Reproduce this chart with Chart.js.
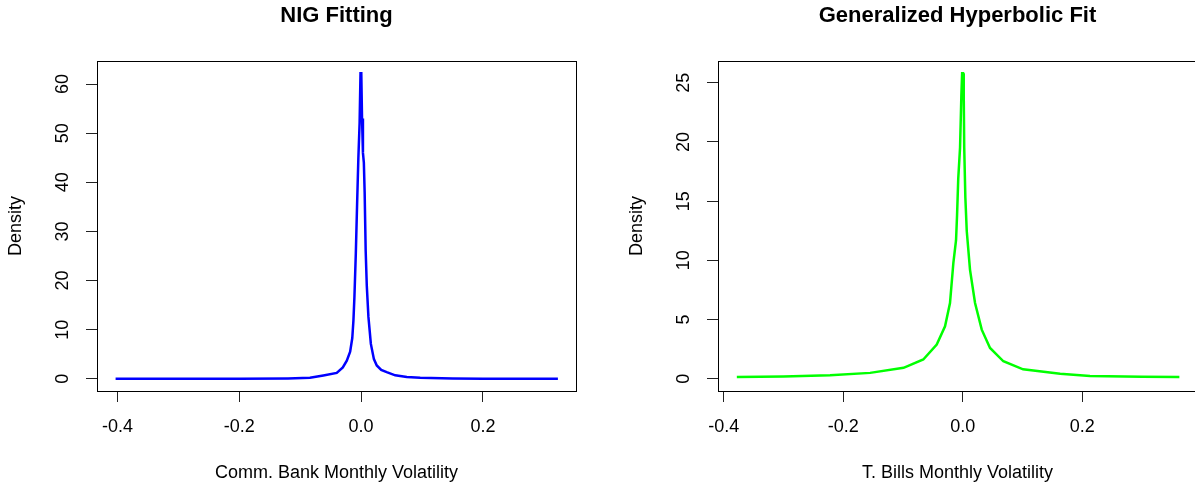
<!DOCTYPE html>
<html>
<head>
<meta charset="utf-8">
<script src="https://cdn.jsdelivr.net/npm/chart.js@4"></script>
<style>
  body { margin: 0; background: #fff; overflow: hidden; width: 1195px; height: 486px; position: relative; }
  .panel { position: absolute; top: 0; height: 486px; }
  #left { left: 0; width: 597px; }
  #right { left: 600px; width: 620px; }
</style>
</head>
<body>
<div class="panel" id="left"><canvas id="nigChart" width="597" height="486"></canvas></div>
<div class="panel" id="right"><canvas id="ghChart" width="620" height="486"></canvas></div>
<script>
// tick positions
const xTicks = [-0.4, -0.2, 0.0, 0.2];
const nigYTicks = [0, 10, 20, 30, 40, 50, 60];
const ghYTicks = [0, 5, 10, 15, 20, 25];

// NIG fitted density
const nigX = [-0.403, -0.3, -0.2, -0.12, -0.084, -0.062, -0.04, -0.03, -0.0235, -0.018, -0.0145,
  -0.0126, -0.011, -0.0087, -0.0065, -0.0045, -0.0025, -0.001, 0.0003, 0.0015, 0.003, 0.0045,
  0.0058, 0.0075, 0.0093, 0.012, 0.016, 0.021, 0.0257, 0.033, 0.042, 0.056, 0.075, 0.097, 0.15,
  0.2, 0.323];
const nigDensity = [0.0, 0.0, 0.02, 0.08, 0.2, 0.67, 1.2, 2.3, 3.7, 5.5, 8.3,
  11.9, 16.6, 25.5, 36.0, 45.0, 52.0, 62.2, 62.2, 53.0, 46.0, 44.0,
  38.0, 26.0, 19.0, 12.6, 7.1, 4.0, 2.7, 1.8, 1.35, 0.7, 0.35, 0.2, 0.05,
  0.01, 0.0];

// Generalized hyperbolic fitted density
const ghX = [-0.378, -0.3, -0.222, -0.155, -0.099, -0.066, -0.0435, -0.0296, -0.0213, -0.0157,
  -0.0112, -0.0095, -0.0075, -0.0045, -0.0023, -0.001, 0.0005, 0.0017, 0.0025, 0.0044, 0.0067,
  0.0122, 0.0206, 0.0318, 0.0457, 0.068, 0.101, 0.163, 0.213, 0.3, 0.3625];
const ghDensity = [0.15, 0.2, 0.3, 0.5, 0.93, 1.63, 2.89, 4.43, 6.4, 9.77,
  11.7, 13.8, 16.9, 19.5, 23.9, 25.8, 25.8, 23.9, 19.5, 15.3, 12.5,
  9.2, 6.4, 4.15, 2.6, 1.48, 0.8, 0.42, 0.24, 0.17, 0.15];

const FONT = "'Liberation Sans', Arial, sans-serif";

// R-style box, titles, rotated y labels
const rStylePlugin = {
  id: "rStyle",
  afterDraw(chart, args, opts) {
    const { ctx, chartArea } = chart;
    const { left, right, top, bottom } = chartArea;
    ctx.save();
    ctx.strokeStyle = "#000";
    ctx.lineWidth = 1;
    ctx.strokeRect(Math.round(left) + 0.5, Math.round(top) + 0.5,
      Math.round(right - left), Math.round(bottom - top));

    ctx.fillStyle = "#000";
    ctx.textAlign = "center";
    ctx.textBaseline = "middle";
    ctx.font = "bold 22px " + FONT;
    ctx.fillText(opts.title, (left + right) / 2, 16);

    ctx.font = "18px " + FONT;
    ctx.fillText(opts.xLabel, (left + right) / 2, 473);

    const yScale = chart.scales.y;
    yScale.ticks.forEach((t) => {
      const py = yScale.getPixelForValue(t.value);
      ctx.save();
      ctx.translate(left - 34, py);
      ctx.rotate(-Math.PI / 2);
      ctx.fillText(String(t.value), 0, 0);
      ctx.restore();
    });

    ctx.save();
    ctx.translate(left - 81, (top + bottom) / 2);
    ctx.rotate(-Math.PI / 2);
    ctx.fillText("Density", 0, 0);
    ctx.restore();
    ctx.restore();
  },
};

function makeChart(id, xs, ys, color, cfg) {
  const ctx = document.getElementById(id).getContext("2d");
  return new Chart(ctx, {
    type: "line",
    data: {
      datasets: [
        {
          data: xs.map((x, i) => ({ x: x, y: ys[i] })),
          borderColor: color,
          borderWidth: 2.5,
          pointRadius: 0,
          tension: 0,
          fill: false,
        },
      ],
    },
    options: {
      responsive: false,
      animation: false,
      layout: { padding: { top: 61, right: cfg.padRight, left: 0, bottom: 0 } },
      plugins: {
        legend: { display: false },
        tooltip: { enabled: false },
        rStyle: { title: cfg.title, xLabel: cfg.xLabel },
      },
      scales: {
        x: {
          type: "linear",
          min: cfg.xMin,
          max: cfg.xMax,
          afterBuildTicks: (scale) => {
            scale.ticks = xTicks.map((v) => ({ value: v }));
          },
          afterFit: (scale) => {
            scale.height = 95;
          },
          grid: { drawOnChartArea: false, drawTicks: true, tickLength: 11, color: "#222" },
          border: { display: true, color: "#000" },
          ticks: {
            color: "#000",
            font: { family: FONT, size: 18 },
            padding: 14,
            maxRotation: 0,
            callback: (v) => Number(v).toFixed(1),
          },
        },
        y: {
          type: "linear",
          min: cfg.yMin,
          max: cfg.yMax,
          afterBuildTicks: (scale) => {
            scale.ticks = cfg.yTicks.map((v) => ({ value: v }));
          },
          afterFit: (scale) => {
            scale.width = cfg.yWidth;
          },
          grid: { drawOnChartArea: false, drawTicks: true, tickLength: 11, color: "#222" },
          border: { display: true, color: "#000" },
          ticks: { display: false },
        },
      },
    },
    plugins: [rStylePlugin],
  });
}

makeChart("nigChart", nigX, nigDensity, "#0000ff", {
  title: "NIG Fitting",
  xLabel: "Comm. Bank Monthly Volatility",
  xMin: -0.4335, xMax: 0.3527,
  yMin: -2.49, yMax: 64.7,
  yTicks: nigYTicks,
  yWidth: 97,
  padRight: 21,
});

makeChart("ghChart", ghX, ghDensity, "#00ff00", {
  title: "Generalized Hyperbolic Fit",
  xLabel: "T. Bills Monthly Volatility",
  xMin: -0.4095, xMax: 0.392,
  yMin: -1.03, yMax: 26.83,
  yTicks: ghYTicks,
  yWidth: 118,
  padRight: 23,
});
</script>
</body>
</html>
